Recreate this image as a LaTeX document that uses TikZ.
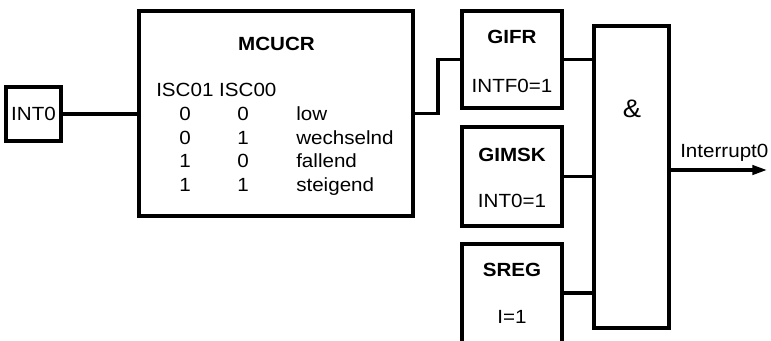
\documentclass[tikz,border=0pt]{standalone}
\usepackage{fontspec}
\setmainfont{Liberation Sans}[FakeStretch=1.08]
\usetikzlibrary{arrows.meta}
\begin{document}
\begin{tikzpicture}[x=0.75pt,y=-0.75pt,
  box/.style={draw,line width=2.4pt,rectangle,inner sep=0pt,outer sep=0pt,anchor=north west},
  conn/.style={line width=2.4pt},
  txt/.style={inner sep=0pt,font=\fontsize{14.3pt}{16pt}\selectfont},
  btxt/.style={inner sep=0pt,font=\fontsize{14.3pt}{16pt}\selectfont\bfseries},
]
\useasboundingbox (0,0) rectangle (771,340);
\fill[white] (0,0) rectangle (771,340);
\clip (0,0) rectangle (771,340);
% boxes
\node[box,minimum width=41.25pt,minimum height=40.5pt] (int0) at (6,87) {};
\node[box,minimum width=205.5pt,minimum height=153.75pt] (mcucr) at (139,11) {};
\node[box,minimum width=75pt,minimum height=72.75pt] (gifr) at (462,11) {};
\node[box,minimum width=75pt,minimum height=74.25pt] (gimsk) at (462,127) {};
\node[box,minimum width=75pt,minimum height=82.5pt] (sreg) at (462,244) {};
\node[box,minimum width=56.25pt,minimum height=226.5pt] (and) at (594,26) {};
% texts
\node[txt] (tint0) at (int0.center) {INT0};
\node[btxt,anchor=base] (tmcucr) at (276.5,50) {MCUCR};
\node[txt,anchor=base west] (thead) at (156,96) {ISC01 ISC00};
\node[txt,anchor=base] (a1) at (185,120) {0};
\node[txt,anchor=base] (b1) at (243,120) {0};
\node[txt,anchor=base west] (c1) at (296,120) {low};
\node[txt,anchor=base] (a2) at (185,144) {0};
\node[txt,anchor=base] (b2) at (243,144) {1};
\node[txt,anchor=base west] (c2) at (296,144) {wechselnd};
\node[txt,anchor=base] (a3) at (185,167) {1};
\node[txt,anchor=base] (b3) at (243,167) {0};
\node[txt,anchor=base west] (c3) at (296,167) {fallend};
\node[txt,anchor=base] (a4) at (185,191) {1};
\node[txt,anchor=base] (b4) at (243,191) {1};
\node[txt,anchor=base west] (c4) at (296,191) {steigend};
\node[btxt,anchor=base] (tgifr) at (512,43) {GIFR};
\node[txt,anchor=base] (tintf) at (512,92) {INTF0=1};
\node[btxt,anchor=base] (tgimsk) at (512,161) {GIMSK};
\node[txt,anchor=base] (tint0b) at (512,207) {INT0=1};
\node[btxt,anchor=base] (tsreg) at (512,276) {SREG};
\node[txt,anchor=base] (ti) at (512,323) {I=1};
\node[font=\fontsize{19pt}{21pt}\selectfont,inner sep=0pt,anchor=base] (amp) at (632,117) {\&};
\node[txt,anchor=base west] (tout) at (680,157) {Interrupt0};
% connectors
\coordinate (bend) at (438,113.5);
\coordinate (sregout) at (562,293);
\coordinate (outstart) at (669,170);
\coordinate (outend) at (767,170);
\draw[conn] (int0.east) -- (int0.east -| mcucr.west);
\draw[conn] (mcucr.east) -- (bend) |- (gifr.west);
\draw[conn] (gifr.east) -- (gifr.east -| and.west);
\draw[conn] (gimsk.east) -- (gimsk.east -| and.west);
\draw[conn] (sregout -| sreg.east) -- (sregout -| and.west);
\draw[conn,-{Triangle[length=11pt,width=7pt]}] (outstart -| and.east) -- (outend);
\end{tikzpicture}
\end{document}
